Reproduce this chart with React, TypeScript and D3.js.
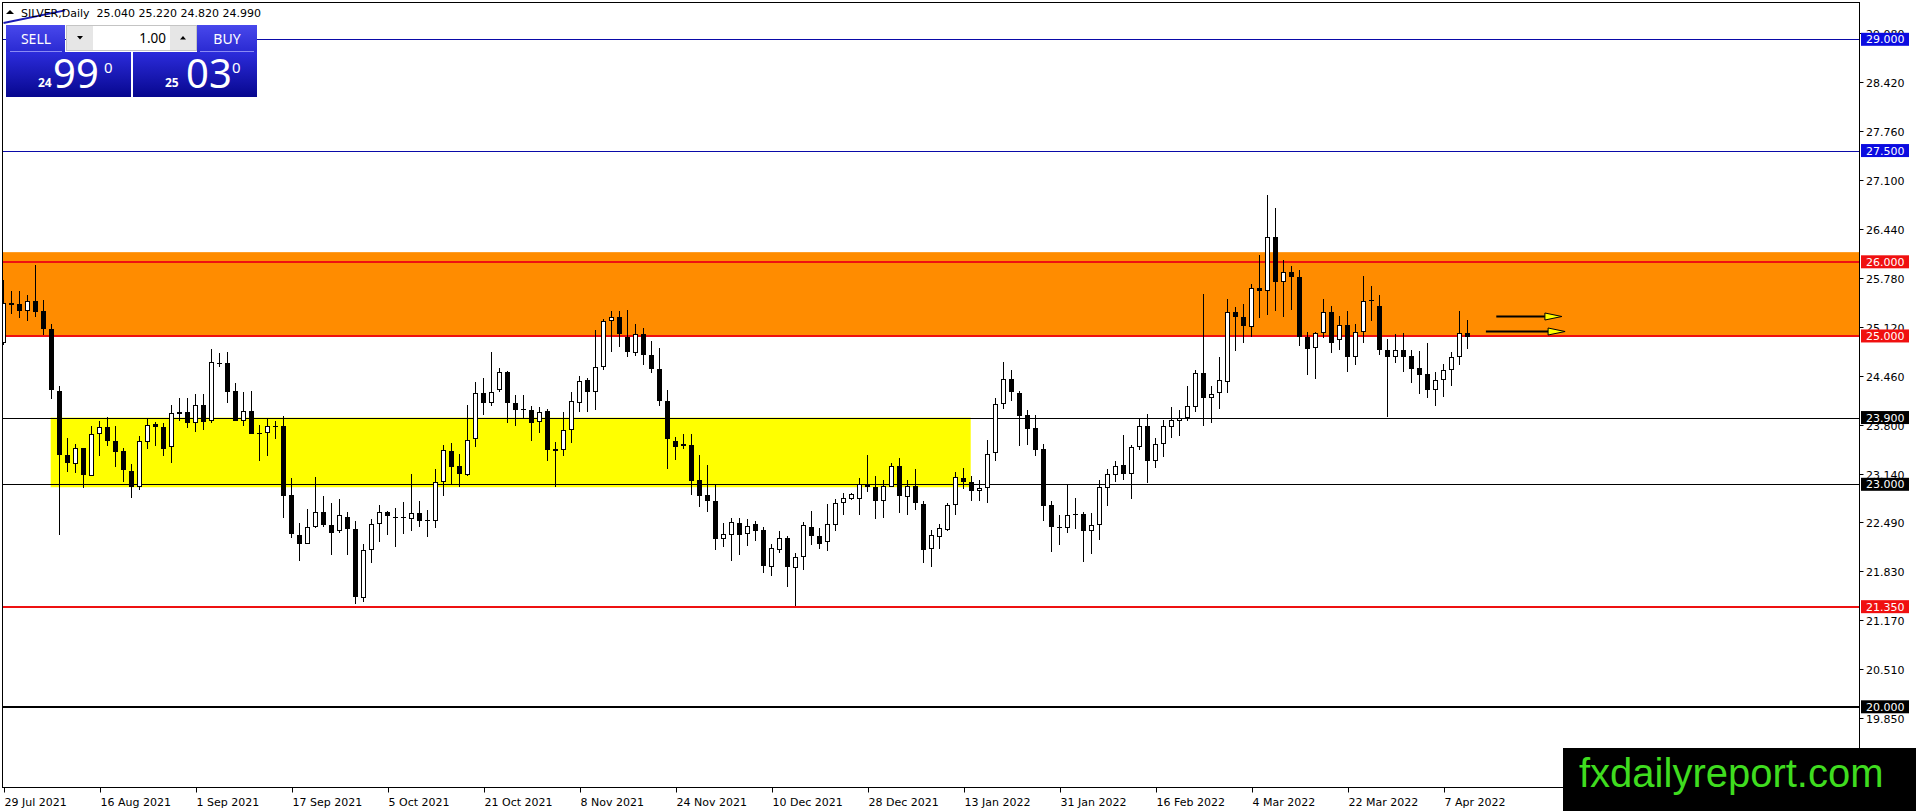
import * as d3 from "d3";

const W = 1916;
const H = 811;

// daily candles, 29 Jul 2021 .. 12 Apr 2022
const OPEN = [
  24.9, 25.44, 25.43, 25.34, 25.47, 25.33, 25.09, 24.26, 23.39, 23.27,
  23.49, 23.11, 23.68, 23.77, 23.59, 23.45, 23.18, 22.97, 23.57, 23.81,
  23.77, 23.5, 23.95, 23.98, 23.83, 24.07, 23.85, 24.64, 24.63, 24.26,
  23.86, 23.99, 23.69, 23.69, 23.79, 23.79, 22.86, 22.31, 22.2, 22.42,
  22.63, 22.45, 22.37, 22.56, 22.4, 21.47, 22.11, 22.46, 22.63, 22.56,
  22.56, 22.53, 22.61, 22.52, 22.51, 23.03, 23.45, 23.25, 23.13, 23.61,
  24.23, 24.1, 24.27, 24.51, 24.1, 24.01, 24.0, 23.84, 23.99, 23.48,
  23.46, 23.73, 24.1, 24.41, 24.24, 24.58, 25.2, 25.25, 24.99, 24.77,
  25.02, 24.74, 24.55, 24.12, 23.59, 23.51, 23.53, 23.06, 22.85, 22.78,
  22.26, 22.32, 22.48, 22.33, 22.46, 22.39, 21.89, 22.11, 22.27, 21.87,
  22.02, 22.43, 22.3, 22.22, 22.45, 22.75, 22.8, 22.8, 23.0, 22.97,
  22.77, 22.97, 23.25, 22.83, 22.98, 22.74, 22.13, 22.29, 22.39, 22.72,
  23.08, 23.03, 22.91, 22.95, 23.42, 24.08, 24.42, 24.23, 23.94, 23.76,
  23.48, 22.72, 22.42, 22.41, 22.6, 22.6, 22.37, 22.45, 22.95, 23.12,
  23.26, 23.14, 23.5, 23.79, 23.31, 23.54, 23.77, 23.86, 23.89, 24.04,
  24.5, 24.17, 24.23, 24.38, 25.32, 25.25, 25.12, 25.64, 25.6, 26.33,
  25.73, 25.86, 25.8, 24.99, 24.84, 25.04, 25.32, 24.94, 25.15, 24.71,
  25.05, 25.48, 25.4, 24.81, 24.71, 24.81, 24.73, 24.57, 24.49, 24.27,
  24.4, 24.54, 24.72, 25.04,
];
const HIGH = [
  25.76, 25.6, 25.6, 25.55, 25.96, 25.48, 25.16, 24.33, 23.62, 23.54,
  23.49, 23.79, 23.85, 23.91, 23.79, 23.49, 23.27, 23.65, 23.89, 23.84,
  23.83, 24.07, 24.16, 24.16, 24.22, 24.22, 24.83, 24.77, 24.78, 24.36,
  24.24, 24.26, 23.8, 23.9, 23.86, 23.92, 23.08, 22.48, 22.67, 23.1,
  22.84, 22.75, 22.8, 22.62, 22.5, 22.19, 22.53, 22.72, 22.64, 22.68,
  22.76, 23.14, 22.77, 22.66, 23.2, 23.53, 23.56, 23.41, 24.07, 24.38,
  24.43, 24.78, 24.57, 24.53, 24.21, 24.2, 24.05, 24.04, 24.02, 23.57,
  23.98, 24.25, 24.46, 24.43, 25.08, 25.23, 25.34, 25.33, 25.35, 25.16,
  25.11, 24.93, 24.84, 24.27, 23.64, 23.68, 23.68, 23.4, 23.26, 22.99,
  22.48, 22.55, 22.55, 22.53, 22.51, 22.43, 22.19, 22.37, 22.3, 22.08,
  22.49, 22.64, 22.41, 22.74, 22.8, 22.88, 22.88, 23.08, 23.39, 23.11,
  23.06, 23.29, 23.35, 23.06, 23.2, 22.77, 22.38, 22.47, 22.75, 23.16,
  23.22, 23.11, 23.06, 23.6, 24.16, 24.65, 24.54, 24.26, 24.0, 23.94,
  23.55, 22.78, 22.59, 22.99, 22.81, 22.62, 22.61, 23.06, 23.2, 23.31,
  23.67, 23.53, 23.89, 23.95, 23.62, 23.87, 24.04, 24.0, 24.33, 24.54,
  25.56, 24.32, 24.71, 25.5, 25.39, 25.43, 25.7, 26.09, 26.9, 26.72,
  26.03, 25.95, 25.89, 25.06, 25.06, 25.5, 25.41, 25.27, 25.34, 25.16,
  25.81, 25.68, 25.55, 24.96, 25.03, 25.04, 24.81, 24.8, 24.9, 24.52,
  24.62, 24.78, 25.34, 25.22,
];
const LOW = [
  24.88, 25.29, 25.24, 25.2, 25.25, 25.01, 24.15, 22.32, 23.17, 23.15,
  22.95, 23.11, 23.38, 23.51, 23.23, 23.03, 22.82, 22.92, 23.48, 23.51,
  23.38, 23.29, 23.85, 23.76, 23.7, 23.73, 23.83, 24.58, 24.1, 23.85,
  23.79, 23.68, 23.32, 23.38, 23.61, 22.55, 22.28, 21.96, 22.19, 22.41,
  22.42, 22.05, 22.34, 22.05, 21.38, 21.41, 21.94, 22.22, 22.31, 22.15,
  22.33, 22.37, 22.43, 22.29, 22.41, 22.84, 23.01, 22.96, 23.11, 23.5,
  23.94, 24.06, 24.24, 23.82, 23.78, 23.88, 23.59, 23.69, 23.32, 22.96,
  23.38, 23.56, 23.98, 23.98, 24.0, 24.54, 24.79, 24.85, 24.72, 24.73,
  24.61, 24.5, 24.05, 23.21, 23.33, 23.47, 22.85, 22.69, 22.62, 22.12,
  22.15, 21.97, 22.05, 22.17, 22.24, 21.8, 21.76, 22.08, 21.62, 21.36,
  21.85, 22.18, 22.13, 22.1, 22.37, 22.59, 22.79, 22.58, 22.9, 22.53,
  22.54, 22.96, 22.61, 22.58, 22.66, 21.94, 21.88, 22.13, 22.37, 22.59,
  22.93, 22.77, 22.77, 22.75, 23.32, 24.02, 24.12, 23.51, 23.53, 23.38,
  22.51, 22.09, 22.18, 22.35, 22.4, 21.95, 22.06, 22.25, 22.71, 23.03,
  23.06, 22.8, 23.46, 23.02, 23.22, 23.37, 23.62, 23.65, 23.85, 23.97,
  23.78, 23.82, 24.02, 24.23, 24.8, 24.91, 24.98, 25.24, 25.28, 25.34,
  25.26, 25.35, 24.87, 24.47, 24.42, 24.97, 24.77, 24.81, 24.52, 24.61,
  24.91, 25.2, 24.74, 23.91, 24.64, 24.51, 24.36, 24.22, 24.17, 24.06,
  24.18, 24.32, 24.61, 24.82,
];
const CLOSE = [
  25.44, 25.42, 25.34, 25.47, 25.32, 25.09, 24.27, 23.39, 23.29, 23.49,
  23.12, 23.68, 23.77, 23.58, 23.44, 23.19, 22.96, 23.58, 23.8, 23.77,
  23.48, 23.96, 23.98, 23.83, 24.07, 23.84, 24.65, 24.62, 24.25, 23.86,
  23.99, 23.68, 23.68, 23.79, 23.78, 22.84, 22.33, 22.19, 22.42, 22.62,
  22.45, 22.35, 22.58, 22.4, 21.48, 22.11, 22.46, 22.63, 22.57, 22.55,
  22.55, 22.61, 22.51, 22.51, 23.03, 23.46, 23.23, 23.14, 23.6, 24.23,
  24.1, 24.24, 24.51, 24.1, 24.0, 24.0, 23.83, 23.98, 23.46, 23.45,
  23.73, 24.12, 24.39, 24.25, 24.58, 25.2, 25.26, 25.03, 24.78, 25.02,
  24.74, 24.55, 24.12, 23.61, 23.5, 23.54, 23.05, 22.84, 22.78, 22.26,
  22.33, 22.49, 22.31, 22.44, 22.37, 21.9, 22.14, 22.28, 21.88, 22.02,
  22.45, 22.3, 22.2, 22.46, 22.75, 22.82, 22.87, 23.0, 22.96, 22.78,
  22.98, 23.25, 22.84, 22.98, 22.75, 22.12, 22.32, 22.41, 22.72, 23.1,
  23.03, 22.91, 22.95, 23.41, 24.08, 24.42, 24.24, 23.92, 23.75, 23.46,
  22.71, 22.42, 22.41, 22.59, 22.59, 22.37, 22.45, 22.96, 23.14, 23.25,
  23.14, 23.5, 23.79, 23.31, 23.54, 23.78, 23.87, 23.89, 24.05, 24.5,
  24.17, 24.22, 24.4, 25.32, 25.25, 25.13, 25.64, 25.6, 26.34, 25.73,
  25.86, 25.8, 24.99, 24.82, 25.04, 25.32, 24.91, 25.15, 24.72, 25.05,
  25.47, 25.47, 24.81, 24.71, 24.81, 24.72, 24.56, 24.47, 24.27, 24.4,
  24.54, 24.71, 25.04, 24.99,
];

const DATE_LABELS = [
  "29 Jul 2021", "16 Aug 2021", "1 Sep 2021", "17 Sep 2021", "5 Oct 2021",
  "21 Oct 2021", "8 Nov 2021", "24 Nov 2021", "10 Dec 2021", "28 Dec 2021",
  "13 Jan 2022", "31 Jan 2022", "16 Feb 2022", "4 Mar 2022", "22 Mar 2022",
  "7 Apr 2022",
];
const DATE_STEP = 12;

const PRICE_TICKS = [
  29.08, 28.42, 27.76, 27.1, 26.44, 25.78, 25.12, 24.46, 23.8, 23.14,
  22.49, 21.83, 21.17, 20.51, 19.85,
];

// horizontal levels
const LEVEL_PRICES = [29, 27.5, 26, 25, 23.9, 23, 21.35, 20];
const LEVEL_KIND = ["blue", "blue", "red", "red", "black", "black", "red", "black2"];

// zones
const ORANGE_ZONE = [25, 26.13];
const YELLOW_ZONE = [22.96, 23.9];
const YELLOW_BARS = [6, 121];

// [from bar, tip bar, price]
const ARROWS = [
  [186.6, 194.8, 25.27],
  [185.3, 195.2, 25.07],
];
const TRENDLINE = [
  [0, 29.22],
  [7.7, 29.39],
];

const HEADER = "SILVER,Daily  25.040 25.220 24.820 24.990";

const LEVEL_STYLE: Record<string, { line: string; box: string; w: number }> = {
  blue: { line: "#0a0aa8", box: "#0b0be0", w: 1 },
  red: { line: "#ee1111", box: "#f01010", w: 2 },
  black: { line: "#000000", box: "#000000", w: 1 },
  black2: { line: "#000000", box: "#000000", w: 2 },
};

const FONT = "'DejaVu Sans', Verdana, sans-serif";
const UI_FONT = "'Noto Sans', 'Open Sans', sans-serif";

export default function App() {
  const left = 2.5;
  const top = 2.5;
  const right = 1859.5;
  const bottom = 787.5;

  const y = d3.scaleLinear().domain([29, 20]).range([39.3, 706.8]);
  const x = d3.scaleLinear().domain([0, 1]).range([3.5, 11.5]);
  const fmt = d3.format(".3f");
  const bodyW = 5;

  const candles = d3.range(OPEN.length).map((i) => ({
    i,
    o: OPEN[i],
    h: HIGH[i],
    l: LOW[i],
    c: CLOSE[i],
  }));

  const trend = d3
    .line<number[]>()
    .x((d) => x(d[0]))
    .y((d) => y(d[1]))(TRENDLINE);

  return (
    <svg
      width={W}
      height={H}
      style={{ position: "absolute", left: 0, top: 0, background: "#fff" }}
    >
      <defs>
        <clipPath id="plot">
          <rect x={left + 0.5} y={top + 0.5} width={right - left - 1} height={bottom - top - 1} />
        </clipPath>
        <linearGradient id="btn" x1="0" y1="0" x2="0" y2="1">
          <stop offset="0" stopColor="#4848ec" />
          <stop offset="1" stopColor="#2a2ad2" />
        </linearGradient>
        <linearGradient id="pricebox" x1="0" y1="0" x2="0" y2="1">
          <stop offset="0" stopColor="#2c2cdc" />
          <stop offset="1" stopColor="#07078e" />
        </linearGradient>
      </defs>

      <rect x={0} y={0} width={W} height={H} fill="#fff" />

      <g clipPath="url(#plot)">
        {/* zones */}
        <rect
          x={left}
          y={y(ORANGE_ZONE[1])}
          width={right - left}
          height={y(ORANGE_ZONE[0]) - y(ORANGE_ZONE[1])}
          fill="#ff8c00"
        />
        <rect
          x={x(YELLOW_BARS[0]) - 0.8}
          y={y(YELLOW_ZONE[1])}
          width={x(YELLOW_BARS[1]) - x(YELLOW_BARS[0])}
          height={y(YELLOW_ZONE[0]) - y(YELLOW_ZONE[1])}
          fill="#ffff00"
        />

        {/* levels */}
        {LEVEL_PRICES.map((p, k) => {
          const s = LEVEL_STYLE[LEVEL_KIND[k]];
          const yy = Math.round(y(p)) + (s.w === 1 ? 0.5 : 0);
          return (
            <line key={p} x1={left} x2={right} y1={yy} y2={yy} stroke={s.line} strokeWidth={s.w} />
          );
        })}

        {/* candles */}
        {candles.map((d) => {
          const cx = x(d.i);
          const up = d.c >= d.o;
          const y0 = Math.round(y(Math.max(d.o, d.c)));
          const y1 = Math.round(y(Math.min(d.o, d.c)));
          const bh = Math.max(1, y1 - y0);
          return (
            <g key={d.i}>
              <line x1={cx} x2={cx} y1={Math.round(y(d.h))} y2={Math.round(y(d.l))} stroke="#000" strokeWidth={1} />
              {up ? (
                <rect
                  x={cx - bodyW / 2 + 0.5}
                  y={y0 + 0.5}
                  width={bodyW - 1}
                  height={Math.max(1, bh - 1)}
                  fill="#fff"
                  stroke="#000"
                  strokeWidth={1}
                />
              ) : (
                <rect x={cx - bodyW / 2} y={y0} width={bodyW} height={bh} fill="#000" />
              )}
            </g>
          );
        })}

        {/* arrows */}
        {ARROWS.map(([a, b, p], k) => {
          const yy = Math.round(y(p)) + 0.5;
          const tip = x(b);
          const base = tip - 17;
          return (
            <g key={k}>
              <line x1={x(a)} x2={base} y1={yy} y2={yy} stroke="#000" strokeWidth={2} />
              <polygon
                points={`${base},${yy - 3.5} ${tip},${yy} ${base},${yy + 3.5}`}
                fill="#ffff00"
                stroke="#000"
                strokeWidth={1}
              />
            </g>
          );
        })}

        {trend && <path d={trend} stroke="#1a1ab4" strokeWidth={2} fill="none" />}
      </g>

      {/* frame */}
      <rect x={left} y={top} width={right - left} height={bottom - top} fill="none" stroke="#000" strokeWidth={1} />

      {/* price axis */}
      {PRICE_TICKS.map((t) => {
        const yy = Math.round(y(t)) + 0.5;
        return (
          <g key={t}>
            <line x1={right} x2={right + 4} y1={yy} y2={yy} stroke="#000" />
            <text x={1866} y={yy + 4} fontSize={11} fontFamily={FONT} fill="#000">
              {fmt(t)}
            </text>
          </g>
        );
      })}

      {/* level labels */}
      {LEVEL_PRICES.map((p, k) => {
        const s = LEVEL_STYLE[LEVEL_KIND[k]];
        const yy = y(p);
        return (
          <g key={p}>
            <rect x={1861} y={yy - 6.5} width={48} height={13} fill={s.box} />
            <text x={1866} y={yy + 4} fontSize={11} fontFamily={FONT} fill="#fff">
              {fmt(p)}
            </text>
          </g>
        );
      })}

      {/* date axis */}
      {DATE_LABELS.map((lab, k) => {
        const xx = Math.round(x(k * DATE_STEP)) + 0.5;
        return (
          <g key={lab}>
            <line x1={xx} x2={xx} y1={bottom} y2={bottom + 5} stroke="#000" />
            <text x={xx} y={806} fontSize={11} fontFamily={FONT} fill="#000">
              {lab}
            </text>
          </g>
        );
      })}

      {/* header */}
      <polygon points="6,14 10,10 14,14" fill="#000" />
      <text x={21} y={17} fontSize={11} fontFamily={FONT} fill="#000" style={{ whiteSpace: "pre" }}>
        {HEADER}
      </text>

      {/* one-click trading panel */}
      <g fontFamily={UI_FONT}>
        <rect x={6} y={25} width={59} height={27} fill="url(#btn)" />
        <line x1={10} x2={62} y1={51.5} y2={51.5} stroke="#8a8af4" />
        <text x={36} y={44} fontSize={14} fill="#fff" textAnchor="middle">
          SELL
        </text>

        <rect x={66.5} y={25.5} width={130} height={25} fill="#e6e6e6" stroke="#c4c4c4" />
        <rect x={93} y={26} width={77} height={24} fill="#fff" />
        <polygon points="77,36 83,36 80,39.5" fill="#000" />
        <polygon points="180,39.5 186,39.5 183,36" fill="#000" />
        <text x={166} y={43} fontSize={13.5} fill="#000" textAnchor="end">
          1.00
        </text>

        <rect x={197} y={25} width={60} height={27} fill="url(#btn)" />
        <line x1={200} x2={254} y1={51.5} y2={51.5} stroke="#8a8af4" />
        <text x={227} y={44} fontSize={14} fill="#fff" textAnchor="middle">
          BUY
        </text>

        <rect x={6} y={52} width={125} height={45} fill="url(#pricebox)" />
        <rect x={133} y={52} width={124} height={45} fill="url(#pricebox)" />

        <text x={38} y={87} fontSize={12} fontWeight="bold" fill="#fff">
          24
        </text>
        <text x={53} y={88} fontSize={40} fill="#fff">
          99
        </text>
        <text x={104} y={73} fontSize={15} fill="#fff">
          0
        </text>

        <text x={165} y={87} fontSize={12} fontWeight="bold" fill="#fff">
          25
        </text>
        <text x={186} y={88} fontSize={40} fill="#fff">
          03
        </text>
        <text x={232} y={73} fontSize={15} fill="#fff">
          0
        </text>
      </g>

      {/* watermark */}
      <rect x={1563} y={748} width={W - 1563} height={H - 748} fill="#000" />
      <text x={1579} y={787} fontSize={40} fontFamily="'Liberation Sans', Arial, sans-serif" fill="#3fdc1f">
        fxdailyreport.com
      </text>
    </svg>
  );
}
